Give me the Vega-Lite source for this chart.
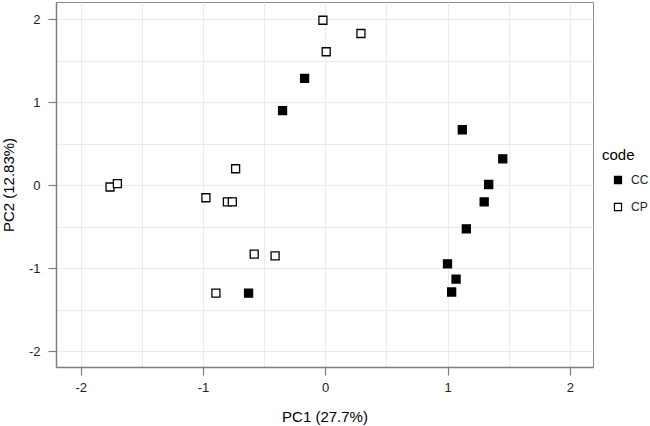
{
  "$schema": "https://vega.github.io/schema/vega-lite/v6.json",
  "autosize": {"type": "none"},
  "padding": {"left": 56, "top": 2, "right": 57, "bottom": 59},
  "width": 537,
  "height": 365,
  "background": "white",
  "config": {
    "font": "Liberation Sans",
    "view": {"stroke": "#8c8c8c", "strokeWidth": 1},
    "axis": {
      "domainColor": "#7f7f7f",
      "domainWidth": 1.5,
      "gridColor": "#ebebeb",
      "gridWidth": 1,
      "tickColor": "#7f7f7f",
      "tickWidth": 1.2,
      "tickSize": 8,
      "labelFontSize": 13,
      "labelColor": "#222222",
      "labelPadding": 6,
      "titleFontSize": 15,
      "titleFontWeight": "normal",
      "titleColor": "#000000"
    }
  },
  "data": {
    "values": [
      {"PC1": -0.169, "PC2": 1.29, "code": "CC"},
      {"PC1": -0.349, "PC2": 0.90, "code": "CC"},
      {"PC1": 1.121, "PC2": 0.67, "code": "CC"},
      {"PC1": 1.452, "PC2": 0.32, "code": "CC"},
      {"PC1": 1.337, "PC2": 0.01, "code": "CC"},
      {"PC1": 1.30, "PC2": -0.20, "code": "CC"},
      {"PC1": 1.154, "PC2": -0.525, "code": "CC"},
      {"PC1": 1.0, "PC2": -0.946, "code": "CC"},
      {"PC1": 1.07, "PC2": -1.13, "code": "CC"},
      {"PC1": 1.034, "PC2": -1.286, "code": "CC"},
      {"PC1": -0.627, "PC2": -1.30, "code": "CC"},
      {"PC1": -0.019, "PC2": 1.99, "code": "CP"},
      {"PC1": 0.292, "PC2": 1.83, "code": "CP"},
      {"PC1": 0.008, "PC2": 1.61, "code": "CP"},
      {"PC1": -0.733, "PC2": 0.20, "code": "CP"},
      {"PC1": -1.76, "PC2": -0.02, "code": "CP"},
      {"PC1": -1.70, "PC2": 0.02, "code": "CP"},
      {"PC1": -0.976, "PC2": -0.15, "code": "CP"},
      {"PC1": -0.80, "PC2": -0.20, "code": "CP"},
      {"PC1": -0.76, "PC2": -0.20, "code": "CP"},
      {"PC1": -0.581, "PC2": -0.83, "code": "CP"},
      {"PC1": -0.41, "PC2": -0.85, "code": "CP"},
      {"PC1": -0.894, "PC2": -1.30, "code": "CP"}
    ]
  },
  "mark": {"type": "point", "shape": "square", "filled": true, "stroke": "black", "strokeWidth": 1.3, "size": 64, "opacity": 1},
  "encoding": {
    "x": {
      "field": "PC1", "type": "quantitative",
      "scale": {"domain": [-2.202, 2.19], "nice": false, "zero": false},
      "axis": {
        "title": "PC1 (27.7%)",
        "values": [-2, -1.5, -1, -0.5, 0, 0.5, 1, 1.5, 2],
        "labelExpr": "datum.value % 1 === 0 ? '' + datum.value : ''",
        "tickOpacity": {"condition": {"test": "datum.value % 1 !== 0", "value": 0}, "value": 1},
        "titlePadding": 15
      }
    },
    "y": {
      "field": "PC2", "type": "quantitative",
      "scale": {"domain": [-2.19, 2.21], "nice": false, "zero": false},
      "axis": {
        "title": "PC2 (12.83%)",
        "values": [-2, -1.5, -1, -0.5, 0, 0.5, 1, 1.5, 2],
        "labelExpr": "datum.value % 1 === 0 ? '' + datum.value : ''",
        "tickOpacity": {"condition": {"test": "datum.value % 1 !== 0", "value": 0}, "value": 1},
        "labelPadding": 8,
        "titlePadding": 12
      }
    },
    "fill": {
      "field": "code", "type": "nominal",
      "scale": {"domain": ["CC", "CP"], "range": ["#000000", "#ffffff"]},
      "legend": {
        "title": "code",
        "orient": "none",
        "legendX": 546,
        "legendY": 146,
        "titleFontSize": 15,
        "titleFontWeight": "normal",
        "titleColor": "#000000",
        "titlePadding": 11,
        "labelFontSize": 12,
        "labelColor": "#222222",
        "labelOffset": 7,
        "symbolOffset": 10,
        "symbolSize": 50,
        "symbolType": "square",
        "symbolStrokeColor": "#000000",
        "symbolStrokeWidth": 1.2,
        "rowPadding": 15
      }
    }
  }
}
